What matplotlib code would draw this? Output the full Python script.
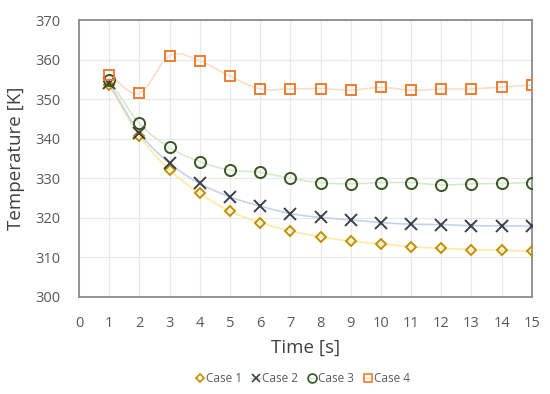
import numpy as np
import matplotlib
matplotlib.use("Agg")
import matplotlib.pyplot as plt

time = list(range(1, 16))
case1 = [353.5, 340.8, 332.1, 326.2, 321.7, 318.8, 316.7, 315.2, 314.1, 313.4, 312.7, 312.3, 312.0, 311.8, 311.6]
case2 = [354.0, 341.5, 333.8, 328.7, 325.3, 323.0, 321.1, 320.1, 319.5, 318.8, 318.4, 318.3, 318.0, 318.0, 317.9]
case3 = [354.8, 343.9, 337.8, 334.2, 332.1, 331.5, 330.0, 328.9, 328.6, 328.9, 328.9, 328.3, 328.6, 328.7, 328.9]
case4 = [356.1, 351.5, 361.0, 359.7, 355.8, 352.6, 352.6, 352.7, 352.3, 353.0, 352.3, 352.6, 352.6, 353.1, 353.6]
labels = ["Case 1", "Case 2", "Case 3", "Case 4"]

plt.rcParams['font.family'] = ['Open Sans', 'DejaVu Sans']

def smooth(x, y, n=20):
    x = np.asarray(x, float); y = np.asarray(y, float)
    P = np.column_stack([x, y])
    P = np.vstack([2*P[0]-P[1], P, 2*P[-1]-P[-2]])
    out = []
    t = np.linspace(0, 1, n, endpoint=False)
    for i in range(1, len(P)-2):
        p0, p1, p2, p3 = P[i-1], P[i], P[i+1], P[i+2]
        c1 = p1 + (p2 - p0) / 6
        c2 = p2 - (p3 - p1) / 6
        tt = t[:, None]
        seg = ((1-tt)**3)*p1 + 3*((1-tt)**2)*tt*c1 + 3*(1-tt)*tt**2*c2 + tt**3*p2
        out.append(seg)
    out.append(P[-2][None, :])
    out = np.vstack(out)
    return out[:, 0], out[:, 1]

fig = plt.figure(figsize=(5.5, 3.94), dpi=100)
ax = fig.add_axes([0.1436, 0.2462, 0.967-0.1436, 0.949-0.2462])

styles = [
    (case1, '#FFE9A3', '#BF9000', 'D', 5.5, 'none'),
    (case2, '#C3D3EE', '#3B3F4A', 'x', 8.0, None),
    (case3, '#D6EACB', '#385723', 'o', 8.0, 'none'),
    (case4, '#FADDC9', '#ED7D31', 's', 7.8, 'none'),
]
handles = []
for (data, lc, mc, m, ms, fc), lab in zip(styles, labels):
    sx, sy = smooth(time, data)
    ax.plot(sx, sy, color=lc, lw=1.2, zorder=2)
    kw = dict(marker=m, markersize=ms, markeredgewidth=1.4, markeredgecolor=mc, linestyle='none', zorder=3)
    if fc is not None:
        kw['markerfacecolor'] = fc
    ax.plot(time, data, **kw)
    lh = matplotlib.lines.Line2D([], [], color=lc, lw=0.8, marker=m, markersize=ms*0.8,
                                 markeredgewidth=1.2, markeredgecolor=mc,
                                 markerfacecolor='none' if fc else mc, label=lab)
    handles.append(lh)

ax.set_xlim(0, 15)
ax.set_ylim(300, 370)
ax.set_xticks(range(0, 16))
ax.set_yticks(range(300, 371, 10))
ax.grid(True, color='#E8E8E8', lw=0.8)
ax.set_axisbelow(True)
for s in ax.spines.values():
    s.set_color('#8C8C8C')
    s.set_linewidth(1.3)
ax.tick_params(axis='x', length=0, labelsize=10.5, colors='#595959', pad=14)
ax.tick_params(axis='y', length=0, labelsize=10.5, colors='#595959', pad=13)
ax.set_xlabel('Time [s]', fontsize=13.5, color='#404040', labelpad=5)
ax.set_ylabel('Temperature [K]', fontsize=13.5, color='#404040', labelpad=8)

fig.legend(handles=handles, loc='center', bbox_to_anchor=(0.55, 0.04), ncol=4, frameon=False,
           fontsize=8.5, labelcolor='#595959', handlelength=0.8, handletextpad=0.1, columnspacing=0.8)

fig.savefig('out.png', dpi=100)
